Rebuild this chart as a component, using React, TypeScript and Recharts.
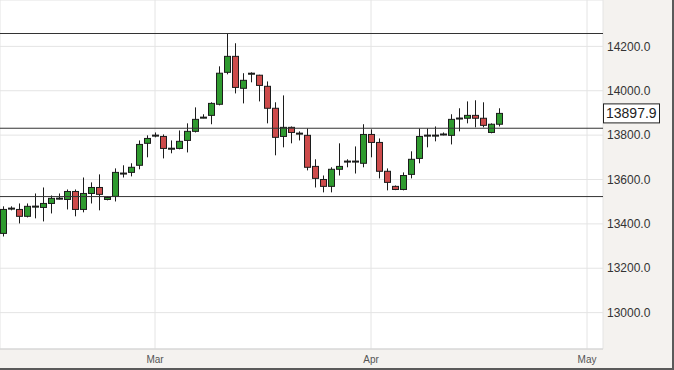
import React from 'react';
import {
  ComposedChart,
  Bar,
  XAxis,
  YAxis,
  CartesianGrid,
  ReferenceLine,
} from 'recharts';

// daily candles
const opens = [
  13357, 13470, 13465, 13434, 13478, 13474, 13492, 13514, 13510, 13546,
  13465, 13537, 13564, 13510, 13524, 13627, 13632, 13664, 13763, 13798,
  13794, 13739, 13740, 13776, 13817, 13879, 13889, 13939, 14083, 14155,
  14011, 14077, 14070, 14020, 13921, 13794, 13835, 13807, 13799, 13659,
  13600, 13569, 13646, 13681, 13681, 13673, 13803, 13767, 13637, 13569,
  13555, 13623, 13695, 13798, 13798, 13803, 13799, 13875, 13876, 13889,
  13876, 13812, 13849,
];
const highs = [
  13479, 13479, 13492, 13492, 13537, 13564, 13528, 13537, 13555, 13555,
  13609, 13587, 13623, 13524, 13650, 13664, 13673, 13776, 13799, 13812,
  13803, 13776, 13821, 13853, 13925, 13894, 13948, 14110, 14259, 14214,
  14079, 14083, 14072, 14042, 13948, 13979, 13839, 13817, 13830, 13691,
  13618, 13655, 13763, 13691, 13749, 13849, 13826, 13785, 13650, 13573,
  13632, 13727, 13830, 13830, 13839, 13812, 13894, 13921, 13952, 13957,
  13948, 13853, 13921,
];
const lows = [
  13343, 13461, 13402, 13429, 13425, 13411, 13447, 13510, 13465, 13434,
  13452, 13492, 13461, 13506, 13501, 13609, 13614, 13646, 13700, 13790,
  13695, 13718, 13736, 13722, 13812, 13876, 13849, 13934, 14074, 13988,
  13943, 14038, 13952, 13853, 13709, 13745, 13763, 13776, 13641, 13564,
  13542, 13542, 13618, 13655, 13627, 13655, 13700, 13605, 13551, 13552,
  13551, 13605, 13673, 13745, 13772, 13799, 13758, 13817, 13853, 13835,
  13835, 13808, 13839,
];
const closes = [
  13465, 13471, 13434, 13479, 13480, 13492, 13515, 13516, 13546, 13465,
  13537, 13564, 13533, 13519, 13632, 13629, 13655, 13758, 13785, 13800,
  13740, 13741, 13772, 13817, 13871, 13881, 13943, 14079, 14155, 14015,
  14047, 14079, 14024, 13921, 13790, 13835, 13812, 13809, 13655, 13605,
  13569, 13646, 13659, 13683, 13683, 13803, 13767, 13637, 13587, 13555,
  13618, 13691, 13794, 13800, 13800, 13805, 13871, 13877, 13889, 13876,
  13844, 13849, 13897.9,
];

const monthTicks = [19, 46, 73];
const monthLabels = ['Mar', 'Apr', 'May'];
const priceTicks = [13000, 13200, 13400, 13600, 13800, 14000, 14200];
const levels = [14258, 13831, 13523];

const data = opens.map((o, i) => ({
  i,
  open: o,
  high: highs[i],
  low: lows[i],
  close: closes[i],
  range: [lows[i], highs[i]],
}));

const lastClose = closes[closes.length - 1];

const Candle = (props: any) => {
  const { x, y, width, height, payload } = props;
  const { open, close, high, low } = payload;
  const top = Math.min(y, y + height);
  const h = Math.abs(height);
  const px = (v: number) => top + ((high - v) / (high - low)) * h;
  const cx = Math.round(x + width / 2);
  const up = close >= open;
  const bTop = px(Math.max(open, close));
  const bBot = px(Math.min(open, close));
  const bodyH = Math.max(1, bBot - bTop);
  return (
    <g>
      <line x1={cx + 0.5} x2={cx + 0.5} y1={top} y2={top + h} stroke="#1c1c1c" strokeWidth={1} />
      <rect
        x={cx - 2.5}
        y={bTop}
        width={6}
        height={bodyH}
        fill={up ? '#2f9a2f' : '#cd4b4b'}
        stroke="#1c1c1c"
        strokeWidth={1}
      />
    </g>
  );
};

const PriceBox = (props: any) => {
  const { viewBox } = props;
  const x = viewBox.x + viewBox.width;
  const y = viewBox.y;
  return (
    <g>
      <rect x={x + 0.5} y={y - 9.5} width={56} height={19} fill="#fff" stroke="#222" strokeWidth={1} />
      <text x={x + 3} y={y + 5} fontSize={14} fill="#222" fontFamily="Liberation Sans, Arial, sans-serif">
        {lastClose.toFixed(1)}
      </text>
    </g>
  );
};

export default function App() {
  return (
    <div
      style={{
        position: 'absolute',
        left: 0,
        top: 0,
        width: 674,
        height: 370,
        boxSizing: 'border-box',
        background: '#f4f2ef',
        borderRight: '2px solid #5a5a5a',
        borderBottom: '2px solid #5a5a5a',
        fontFamily: 'Liberation Sans, Arial, sans-serif',
      }}
    >
      <ComposedChart width={672} height={368} data={data} margin={{ top: 0, right: 0, bottom: 0, left: 0 }}>
        <CartesianGrid stroke="#e4e4e4" fill="#ffffff" />
        <XAxis
          dataKey="i"
          type="number"
          domain={[-0.375, 75]}
          ticks={monthTicks}
          tickFormatter={(v: number) => monthLabels[monthTicks.indexOf(v)] ?? ''}
          height={19}
          tickLine={false}
          axisLine={{ stroke: '#d0d0d0' }}
          tickSize={0}
          tickMargin={7}
          tick={{ fontSize: 10, fill: '#555' }}
          allowDataOverflow
        />
        <YAxis
          orientation="right"
          type="number"
          domain={[12836, 14409]}
          ticks={priceTicks}
          tickFormatter={(v: number) => v.toFixed(1)}
          width={69}
          tickLine={false}
          axisLine={false}
          tickSize={0}
          tickMargin={4}
          tick={{ fontSize: 12, fill: '#333' }}
          allowDataOverflow
        />
        {levels.map((lv) => (
          <ReferenceLine key={lv} y={lv} stroke="#333" strokeWidth={1} />
        ))}
        <Bar dataKey="range" barSize={6} shape={<Candle />} isAnimationActive={false} />
        <ReferenceLine y={lastClose} stroke="none" label={<PriceBox />} />
      </ComposedChart>
    </div>
  );
}
